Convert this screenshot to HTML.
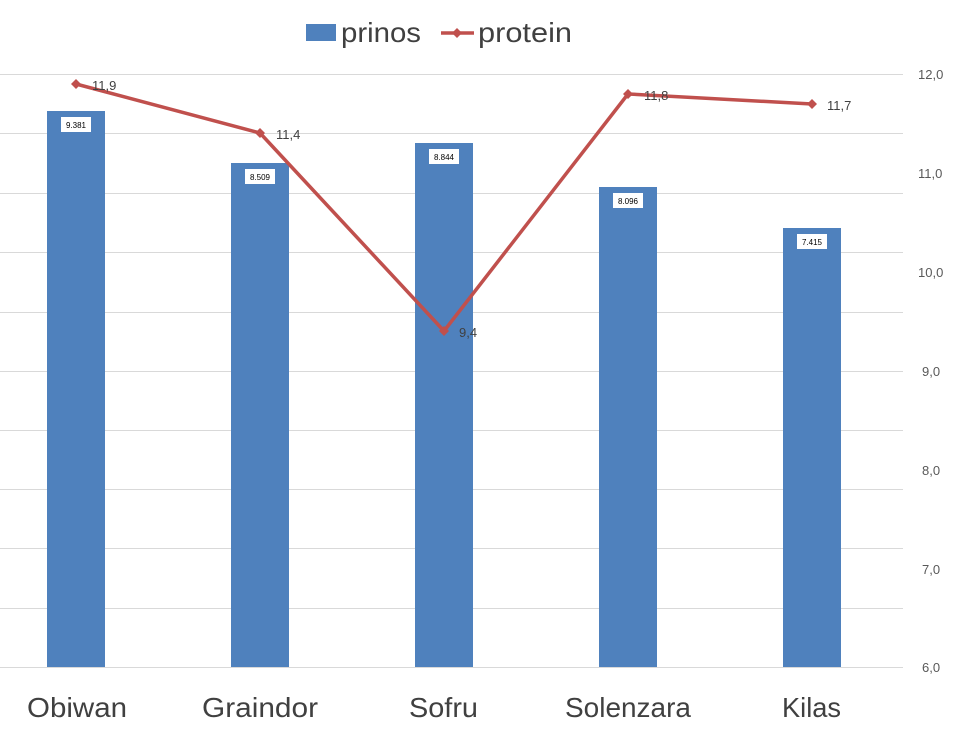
<!DOCTYPE html><html><head><style>body{margin:0;background:#fff}svg{display:block}</style></head><body>
<svg width="953" height="734" xmlns="http://www.w3.org/2000/svg" font-family="Liberation Sans, sans-serif">
<g stroke="#d9d9d9" stroke-width="1">
<line x1="0" x2="903" y1="74.5" y2="74.5"/><line x1="0" x2="903" y1="133.5" y2="133.5"/><line x1="0" x2="903" y1="193.5" y2="193.5"/><line x1="0" x2="903" y1="252.5" y2="252.5"/><line x1="0" x2="903" y1="312.5" y2="312.5"/><line x1="0" x2="903" y1="371.5" y2="371.5"/><line x1="0" x2="903" y1="430.5" y2="430.5"/><line x1="0" x2="903" y1="489.5" y2="489.5"/><line x1="0" x2="903" y1="548.5" y2="548.5"/><line x1="0" x2="903" y1="608.5" y2="608.5"/><line x1="0" x2="903" y1="667.5" y2="667.5"/>
</g>
<g fill="#4f81bd">
<rect x="47" y="111" width="58" height="556"/><rect x="231" y="163" width="58" height="504"/><rect x="415" y="143" width="58" height="524"/><rect x="599" y="187" width="58" height="480"/><rect x="783" y="228" width="58" height="439"/>
</g>
<g fill="#fff"><rect x="61" y="117" width="30" height="15"/><rect x="245" y="169" width="30" height="15"/><rect x="429" y="149" width="30" height="15"/><rect x="613" y="193" width="30" height="15"/><rect x="797" y="234" width="30" height="15"/></g>
<g font-size="8" text-anchor="middle" fill="#000"><text x="76" y="128">9.381</text><text x="260" y="180">8.509</text><text x="444" y="160">8.844</text><text x="628" y="204">8.096</text><text x="812" y="245">7.415</text></g>
<polyline points="76,84 260,133 444,331 628,94 812,104" fill="none" stroke="#c0504d" stroke-width="3.5" stroke-linejoin="round"/>
<g fill="#c0504d"><path d="M76,79 l5,5 -5,5 -5,-5z"/><path d="M260,128 l5,5 -5,5 -5,-5z"/><path d="M444,326 l5,5 -5,5 -5,-5z"/><path d="M628,89 l5,5 -5,5 -5,-5z"/><path d="M812,99 l5,5 -5,5 -5,-5z"/></g>
<g font-size="13" fill="#404040"><text x="92" y="90">11,9</text><text x="276" y="139">11,4</text><text x="459" y="337">9,4</text><text x="644" y="100">11,8</text><text x="827" y="110">11,7</text></g>
<g font-size="13" fill="#595959"><text x="918" y="79">12,0</text><text x="918" y="178">11,0</text><text x="918" y="277">10,0</text><text x="922" y="376">9,0</text><text x="922" y="475">8,0</text><text x="922" y="574">7,0</text><text x="922" y="672">6,0</text></g>
<g font-size="28" fill="#404040"><text x="27" y="717" textLength="100" lengthAdjust="spacingAndGlyphs">Obiwan</text><text x="202" y="717" textLength="116" lengthAdjust="spacingAndGlyphs">Graindor</text><text x="409" y="717" textLength="69" lengthAdjust="spacingAndGlyphs">Sofru</text><text x="565" y="717" textLength="126" lengthAdjust="spacingAndGlyphs">Solenzara</text><text x="782" y="717" textLength="59" lengthAdjust="spacingAndGlyphs">Kilas</text></g>
<rect x="306" y="24" width="30" height="17" fill="#4f81bd"/>
<text x="341" y="42" font-size="28" fill="#404040" textLength="80" lengthAdjust="spacingAndGlyphs">prinos</text>
<line x1="441" x2="474" y1="33" y2="33" stroke="#c0504d" stroke-width="3.5"/>
<path d="M457,28 l5,5 -5,5 -5,-5z" fill="#c0504d"/>
<text x="478" y="42" font-size="28" fill="#404040" textLength="94" lengthAdjust="spacingAndGlyphs">protein</text>
</svg></body></html>
